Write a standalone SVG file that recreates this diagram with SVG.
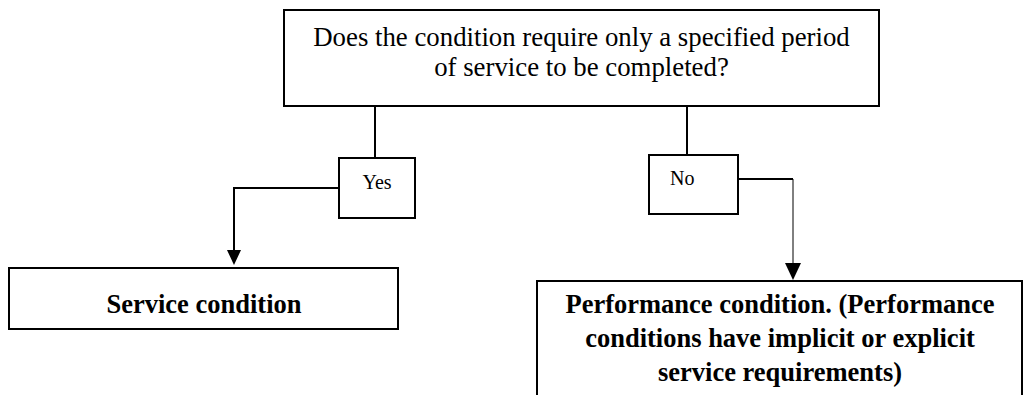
<svg xmlns="http://www.w3.org/2000/svg" width="1024" height="395" viewBox="0 0 1024 395">
<style>
.box{fill:#fff;stroke:#000;stroke-width:2}
.t{font-family:"Liberation Serif","Times New Roman",serif;fill:#000}
.q{font-size:26.8px}
.b{font-size:26.5px;font-weight:bold}
.s{font-size:20px}
.c{fill:none;stroke:#000;stroke-width:2}
.thin{fill:none;stroke:#000;stroke-width:1}
</style>
<rect width="1024" height="395" fill="#fff"/>
<g id="connectors">
<path class="c" d="M375,106 V158"/>
<path class="c" d="M687,106 V155"/>
<path class="c" d="M339,188 H234 V252"/>
<polygon points="227,250 241,250 234,265"/>
<path class="c" d="M738,179 H793"/>
<path class="thin" d="M793,179 V265"/>
<polygon points="785,263 801,263 793,280"/>
</g>
<g id="question">
<rect class="box" x="284" y="10" width="595" height="96"/>
<text class="t q" x="581.5" y="46" text-anchor="middle">Does the condition require only a specified period</text>
<text class="t q" x="581.5" y="76" text-anchor="middle">of service to be completed?</text>
</g>
<g id="yes">
<rect class="box" x="339" y="158" width="76" height="60"/>
<text class="t s" x="377" y="189" text-anchor="middle">Yes</text>
</g>
<g id="no">
<rect class="box" x="649" y="155" width="89" height="59"/>
<text class="t s" x="670" y="185">No</text>
</g>
<g id="service">
<rect class="box" x="9" y="268" width="389" height="61"/>
<text class="t b" x="204" y="313" text-anchor="middle">Service condition</text>
</g>
<g id="performance">
<path class="c" d="M537,400 V281 H1022 V400"/>
<text class="t b" x="780" y="313" text-anchor="middle">Performance condition. (Performance</text>
<text class="t b" x="780" y="347" text-anchor="middle">conditions have implicit or explicit</text>
<text class="t b" x="780" y="381" text-anchor="middle">service requirements)</text>
</g>
</svg>
